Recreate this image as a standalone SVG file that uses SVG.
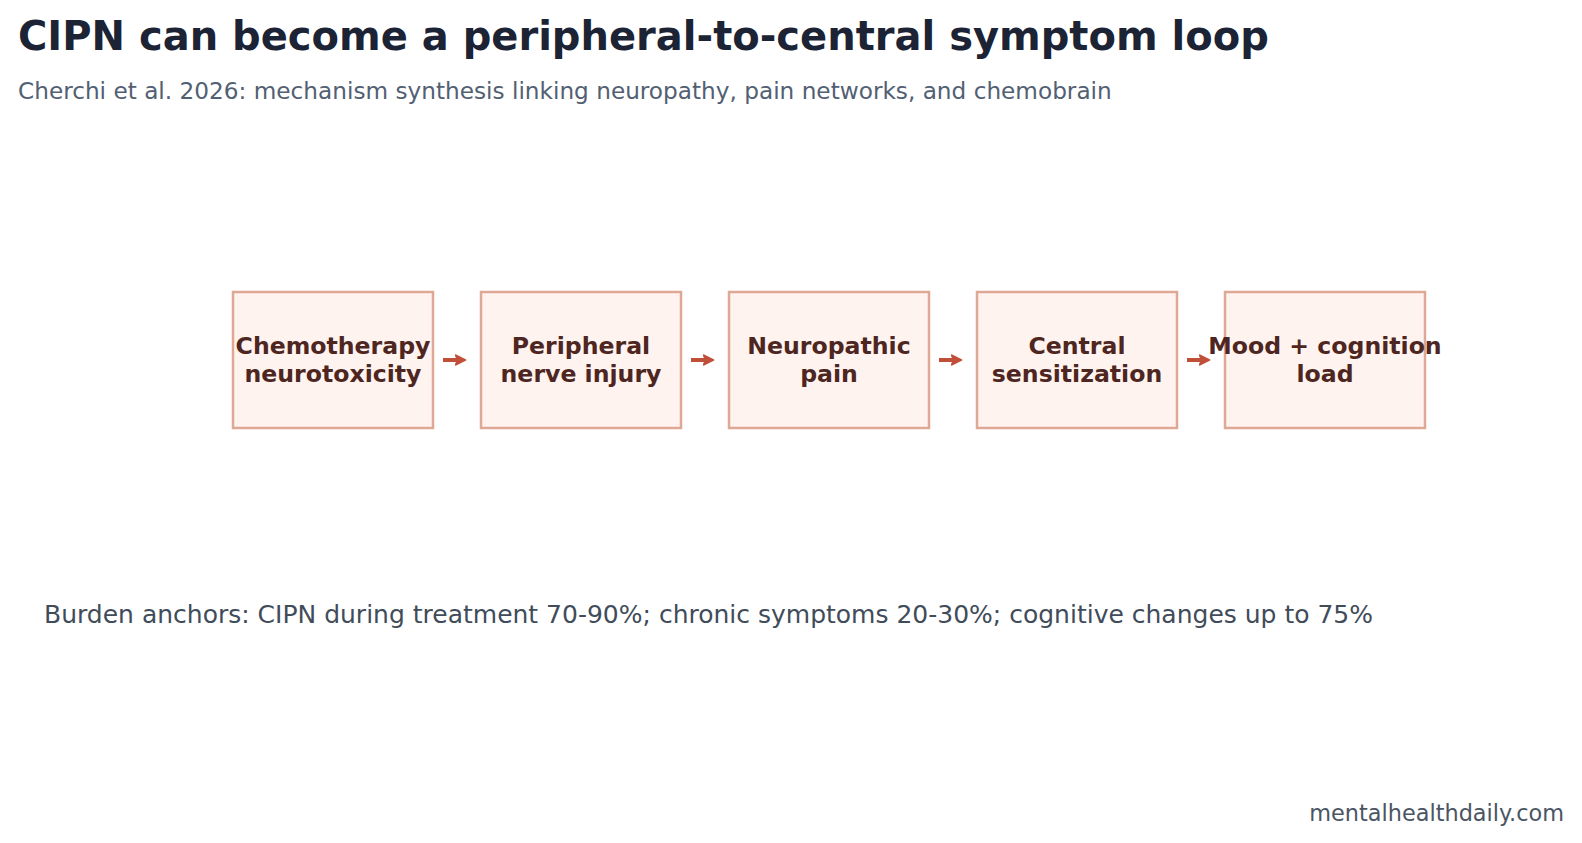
<svg xmlns="http://www.w3.org/2000/svg" width="1582" height="843" viewBox="0 0 1582 843">
<defs>
<style>
.title{font-family:"DejaVu Sans",sans-serif;font-weight:bold;font-size:40px;fill:#1b2335}
.sub{font-family:"DejaVu Sans",sans-serif;font-size:23.2px;fill:#526073}
.box{fill:#fef3ef;stroke:#dfa795;stroke-width:2.5}
.lbl{font-family:"DejaVu Sans",sans-serif;font-weight:bold;font-size:23.6px;fill:#4e2621;text-anchor:middle}
.note{font-family:"DejaVu Sans",sans-serif;font-size:25px;fill:#414c5a}
.foot{font-family:"DejaVu Sans",sans-serif;font-size:22.4px;fill:#4b5563;text-anchor:end}
.arr{stroke:#c0503a;stroke-width:4;fill:none;marker-end:url(#ah)}
</style>
<marker id="ah" viewBox="0 0 10 10" refX="7" refY="5" markerWidth="3" markerHeight="3" orient="auto" markerUnits="strokeWidth">
<path d="M1,1 L9,5 L1,9 L2.5,5 Z" fill="#c0503a" stroke="#c0503a" stroke-width="1.5" stroke-linejoin="round"/>
</marker>
</defs>
<rect width="1582" height="843" fill="#ffffff"/>
<text class="title" x="18" y="50">CIPN can become a peripheral-to-central symptom loop</text>
<text class="sub" x="18" y="99">Cherchi et al. 2026: mechanism synthesis linking neuropathy, pain networks, and chemobrain</text>
<g id="connectors">
<line class="arr" x1="443" y1="360" x2="463" y2="360"/>
<line class="arr" x1="691" y1="360" x2="711" y2="360"/>
<line class="arr" x1="939" y1="360" x2="959" y2="360"/>
<line class="arr" x1="1187" y1="360" x2="1207" y2="360"/>
</g>
<g id="n1"><rect class="box" x="233" y="292" width="200" height="136"/><text class="lbl" x="333" y="354">Chemotherapy</text><text class="lbl" x="333" y="382">neurotoxicity</text></g>
<g id="n2"><rect class="box" x="481" y="292" width="200" height="136"/><text class="lbl" x="581" y="354">Peripheral</text><text class="lbl" x="581" y="382">nerve injury</text></g>
<g id="n3"><rect class="box" x="729" y="292" width="200" height="136"/><text class="lbl" x="829" y="354">Neuropathic</text><text class="lbl" x="829" y="382">pain</text></g>
<g id="n4"><rect class="box" x="977" y="292" width="200" height="136"/><text class="lbl" x="1077" y="354">Central</text><text class="lbl" x="1077" y="382">sensitization</text></g>
<g id="n5"><rect class="box" x="1225" y="292" width="200" height="136"/><text class="lbl" x="1325" y="354">Mood + cognition</text><text class="lbl" x="1325" y="382">load</text></g>
<text class="note" x="44" y="623">Burden anchors: CIPN during treatment 70-90%; chronic symptoms 20-30%; cognitive changes up to 75%</text>
<text class="foot" x="1564" y="821">mentalhealthdaily.com</text>
</svg>
